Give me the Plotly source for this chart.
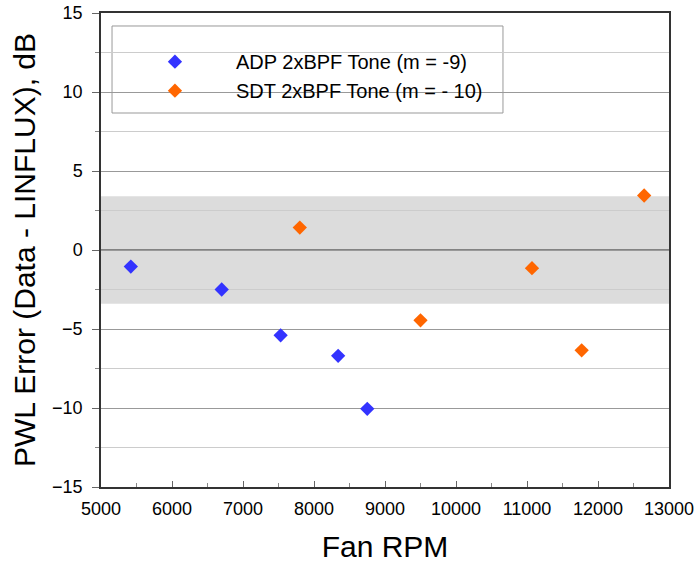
import plotly.graph_objects as go

adp_rpm = [5420, 6700, 7530, 8340, 8750]
adp_err = [-1.05, -2.5, -5.4, -6.7, -10.05]
sdt_rpm = [7800, 9500, 11070, 11770, 12650]
sdt_err = [1.42, -4.45, -1.15, -6.35, 3.45]

band_lo, band_hi = -3.4, 3.4
x_range = [5000, 13000]
y_range = [-15, 15]

FONT = "Liberation Sans, Arial, Helvetica, sans-serif"

fig = go.Figure()
fig.add_trace(go.Scatter(x=adp_rpm, y=adp_err, mode="markers",
                         name="ADP 2xBPF Tone (m = -9)",
                         marker=dict(symbol="diamond", size=11, color="#3333ff", line=dict(width=0))))
fig.add_trace(go.Scatter(x=sdt_rpm, y=sdt_err, mode="markers",
                         name="SDT 2xBPF Tone (m = - 10)",
                         marker=dict(symbol="diamond", size=11, color="#ff6600", line=dict(width=0))))

# shaded band
fig.add_shape(type="rect", xref="paper", x0=0, x1=1, yref="y", y0=band_lo, y1=band_hi,
              fillcolor="#dcdcdc", line=dict(width=0), layer="between")
# zero line above band
fig.add_shape(type="line", xref="paper", x0=0, x1=1, yref="y", y0=0, y1=0,
              line=dict(color="#666666", width=1.5), layer="between")
# legend box
fig.add_shape(type="rect", xref="paper", yref="paper", x0=0.0194, x1=0.7077, y0=0.789, y1=0.9726,
              fillcolor="white", line=dict(color="#999999", width=1), layer="between")

fig.update_layout(
    width=698, height=563,
    margin=dict(l=101, r=29, t=13, b=76, autoexpand=False),
    paper_bgcolor="white", plot_bgcolor="white",
    font=dict(family=FONT, color="black", size=18),
    showlegend=True,
    legend=dict(x=0.0228, y=0.9385, xanchor="left", yanchor="top",
                bgcolor="rgba(0,0,0,0)", borderwidth=0,
                font=dict(family=FONT, size=20, color="black"),
                itemwidth=112),
    xaxis=dict(range=x_range, dtick=1000, tick0=5000, tickformat="d", showgrid=False, zeroline=False,
               automargin=False,
               showline=True, linecolor="#333333", linewidth=1.5, mirror=True,
               ticks="inside", ticklen=6, tickcolor="#666666",
               minor=dict(dtick=500, ticks="inside", ticklen=4, tickcolor="#888888", showgrid=False),
               tickfont=dict(size=18), ticklabelstandoff=5,
               title=dict(text="Fan RPM", font=dict(size=30), standoff=20)),
    yaxis=dict(range=y_range, dtick=5, tick0=0, showgrid=True, gridcolor="#999999", gridwidth=1,
               zeroline=False, automargin=False,
               showline=True, linecolor="#333333", linewidth=1.5, mirror=True,
               ticks="outside", ticklen=7, tickcolor="#666666",
               minor=dict(dtick=2.5, ticks="outside", ticklen=4, tickcolor="#888888",
                          showgrid=True, gridcolor="#cccccc", gridwidth=1),
               tickfont=dict(size=18), ticklabelstandoff=6,
               title=dict(text="PWL Error (Data - LINFLUX), dB", font=dict(size=30), standoff=8)),
)

fig.write_html("out.html")
